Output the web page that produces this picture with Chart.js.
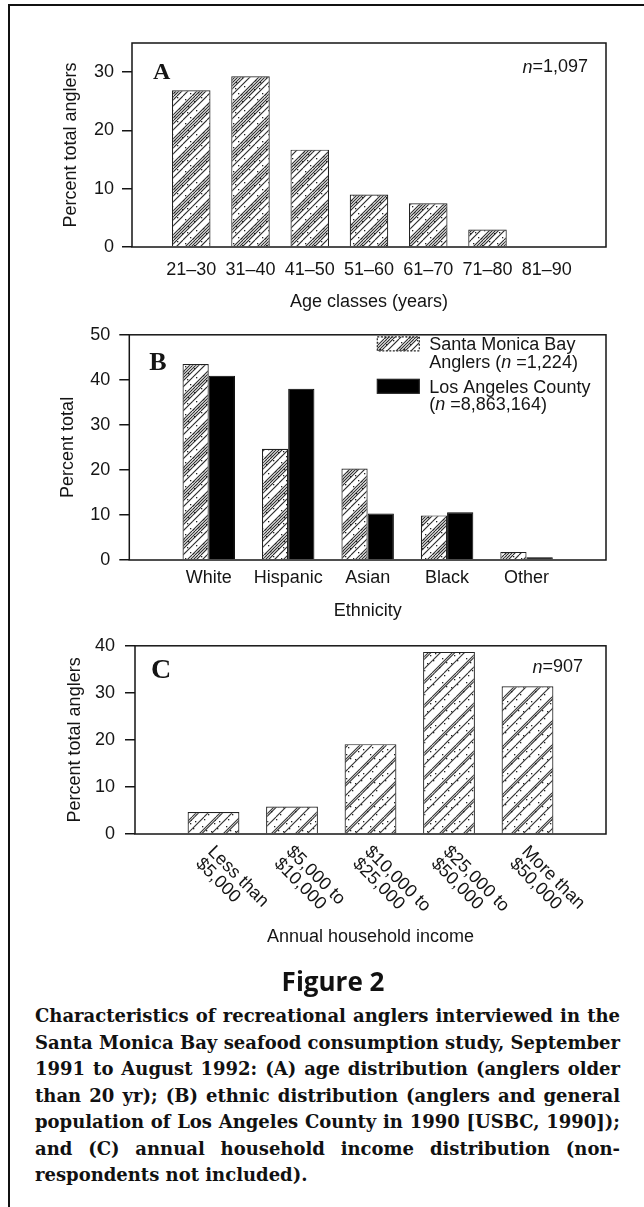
<!DOCTYPE html>
<html>
<head>
<meta charset="utf-8">
<script src="https://cdn.jsdelivr.net/npm/chart.js@4.4.0/dist/chart.umd.min.js"></script>
<style>
  body { margin: 0; background: #fff; }
  #page { position: relative; width: 644px; height: 1207px; overflow: hidden; }
  #frame { position: absolute; left: 8px; top: 4px; width: 700px; height: 1300px;
           border-left: 2px solid #111; border-top: 2px solid #111; }
  canvas { position: absolute; left: 0; }
  #fig { position: absolute; left: 0; width: 666px; top: 966px; text-align: center;
         font: bold 26px "Open Sans"; line-height: 30px; color: #111; }
  #caption { position: absolute; left: 35px; width: 585px; top: 1003px; color: #111;
             font: bold 18.5px "DejaVu Serif"; line-height: 26.5px; }
  #caption div { text-align: justify; text-align-last: justify; white-space: nowrap; }
  #caption div:last-child { text-align-last: left; }
  #caption span { display: inline; }
</style>
</head>
<body>
<div id="page">
  <div id="frame"></div>
  <canvas id="chartA" width="644" height="320" style="top:0px"></canvas>
  <canvas id="chartB" width="644" height="310" style="top:315px"></canvas>
  <canvas id="chartC" width="644" height="325" style="top:625px"></canvas>
  <div id="fig">Figure 2</div>
  <div id="caption">
    <div>Characteristics of recreational anglers interviewed in the</div>
    <div>Santa Monica Bay seafood consumption study, September</div>
    <div>1991 to August 1992: (A) age distribution (anglers older</div>
    <div>than 20 yr); (B) ethnic distribution (anglers and general</div>
    <div>population of Los Angeles County in 1990 [USBC, 1990]);</div>
    <div>and (C) annual household income distribution (non-</div>
    <div>respondents not included).</div>
  </div>
</div>
<script>
// panel A - age classes
const ageClasses = ["21–30", "31–40", "41–50", "51–60", "61–70", "71–80", "81–90"];
const agePct = [26.9, 29.3, 16.7, 9.0, 7.5, 3.0, 0.15];

// panel B - ethnicity
const ethnicGroups = ["White", "Hispanic", "Asian", "Black", "Other"];
const anglersPct = [43.5, 24.7, 20.3, 9.9, 1.8];
const countyPct = [40.9, 38.0, 10.3, 10.6, 0.6];

// panel C - household income
const incomeClasses = [
  ["Less than", "$5,000"],
  ["$5,000 to", "$10,000"],
  ["$10,000 to", "$25,000"],
  ["$25,000 to", "$50,000"],
  ["More than", "$50,000"],
];
const incomePct = [4.65, 5.85, 19.1, 38.7, 31.4];

Chart.defaults.font.family = '"Liberation Sans", Arial, sans-serif';
Chart.defaults.font.size = 18;
Chart.defaults.color = "#111";

const ink = "#151515";

// shrink caption font until every line fits its box
(function fitCaption() {
  const cap = document.getElementById("caption");
  const lines = [...cap.children];
  let size = 18.5;
  const tooWide = () => lines.some((d) => {
    d.style.display = "inline-block";
    d.style.textAlignLast = "left";
    const w = d.getBoundingClientRect().width;
    d.style.display = "";
    d.style.textAlignLast = "";
    return w > 585;
  });
  while (size > 14 && tooWide()) {
    size -= 0.25;
    cap.style.fontSize = size + "px";
  }
})();

// diagonal hatch + stipple, like the scanned bars
function makeHatch(offsets, color, dots) {
  const s = 24;
  const c = document.createElement("canvas");
  c.width = c.height = s;
  const g = c.getContext("2d");
  g.fillStyle = "#fff";
  g.fillRect(0, 0, s, s);
  g.strokeStyle = color;
  g.lineWidth = 1.1;
  for (let base = -s; base <= s; base += s) {
    offsets.forEach((o) => {
      g.beginPath();
      g.moveTo(base + o, s);
      g.lineTo(base + o + s, 0);
      g.stroke();
    });
  }
  g.fillStyle = "#222";
  dots.forEach(([x, y]) => g.fillRect(x, y, 1.3, 1.3));
  return g.createPattern(c, "repeat");
}

const dotsDense = [[2, 5], [9, 1], [14, 17], [20, 10], [6, 20], [17, 3], [11, 12], [22, 21], [4, 14], [15, 8], [1, 22], [19, 16]];
const dotsSparse = [[3, 4], [12, 2], [19, 14], [7, 18], [16, 21], [1, 11], [10, 9], [22, 6], [14, 13]];
const hatchA = makeHatch([0, 3, 6, 9, 15], "#2a2a2a", dotsDense);
const hatchC = makeHatch([0, 2.5, 12], "#333", dotsSparse);

// pad categories with an empty slot at each end
const padLabels = (arr) => ["", ...arr.map((a) => (Array.isArray(a) ? a.join(" ") : a)), ""];
const padData = (arr) => [null, ...arr, null];

const plotBox = {
  id: "plotBox",
  afterDatasetsDraw(chart) {
    const { ctx, chartArea: a } = chart;
    ctx.save();
    ctx.strokeStyle = ink;
    ctx.lineWidth = 1.5;
    ctx.strokeRect(a.left, a.top, a.right - a.left, a.bottom - a.top);
    ctx.restore();
  },
};

function drawN(ctx, text, right, y) {
  ctx.font = '18px "Liberation Sans"';
  ctx.textAlign = "right";
  ctx.fillText(text, right, y);
  const w = ctx.measureText(text).width;
  ctx.font = 'italic 18px "Liberation Sans"';
  ctx.fillText("n", right - w, y);
}

const panelText = {
  id: "panelText",
  afterDraw(chart, args, opts) {
    const { ctx, chartArea: a } = chart;
    ctx.save();
    ctx.fillStyle = ink;
    ctx.textBaseline = "middle";
    ctx.textAlign = "left";
    ctx.font = `bold ${opts.letterSize}px "Liberation Serif"`;
    ctx.fillText(opts.letter, a.left + opts.letterDx, a.top + opts.letterDy);
    if (opts.n) drawN(ctx, opts.n, a.right - opts.nDx, a.top + opts.nDy);
    ctx.restore();
  },
};

function yAxis(max, width, titleText, titlePad, tickPad) {
  return {
    min: 0,
    max: max,
    afterFit: (s) => { s.width = width; },
    afterBuildTicks: (s) => { s.ticks = s.ticks.filter((t) => t.value % 10 === 0); },
    ticks: { stepSize: 10, padding: tickPad, color: ink },
    grid: { drawOnChartArea: false, drawTicks: true, tickLength: 10, color: ink, lineWidth: 1.5 },
    border: { display: false },
    title: { display: true, text: titleText, color: ink, padding: { top: titlePad, bottom: 0 } },
  };
}

function xAxis(labels, height, titleText, tickPad, titlePad, showTicks) {
  return {
    type: "category",
    labels: labels,
    offset: false,
    afterFit: (s) => { s.height = height; },
    ticks: { display: showTicks, autoSkip: false, maxRotation: 0, padding: tickPad, color: ink },
    grid: { display: false },
    border: { display: false },
    title: { display: true, text: titleText, color: ink, padding: { top: 0, bottom: titlePad } },
  };
}

const common = {
  responsive: false,
  animation: false,
  devicePixelRatio: 1,
  events: [],
};

// ---- A
new Chart(document.getElementById("chartA"), {
  type: "bar",
  data: {
    labels: padLabels(ageClasses),
    datasets: [{
      data: padData(agePct),
      backgroundColor: hatchA,
      borderColor: "#222",
      borderWidth: 1.2,
      barPercentage: 0.65,
      categoryPercentage: 1,
    }],
  },
  options: {
    ...common,
    layout: { padding: { top: 43, right: 38, left: 0, bottom: 0 } },
    scales: {
      x: xAxis(padLabels(ageClasses), 73, "Age classes (years)", 4, 7.5, true),
      y: yAxis(35, 132, "Percent total anglers", 60.7, 8),
    },
    plugins: {
      legend: { display: false },
      tooltip: { enabled: false },
      panelText: { letter: "A", letterSize: 24, letterDx: 21, letterDy: 30, n: "=1,097", nDx: 18, nDy: 24.5 },
    },
  },
  plugins: [plotBox, panelText],
});

// ---- B legend, drawn from the dataset labels
const legendB = {
  id: "legendB",
  afterDraw(chart) {
    const { ctx, chartArea: a } = chart;
    const x0 = a.left + 248;
    const rows = [
      { y: a.top + 2, lines: ["Santa Monica Bay", "Anglers (|n| =1,224)"] },
      { y: a.top + 44.5, lines: ["Los Angeles County", "(|n| =8,863,164)"] },
    ];
    ctx.save();
    chart.data.datasets.forEach((ds, i) => {
      const r = rows[i];
      ctx.fillStyle = ds.backgroundColor;
      ctx.fillRect(x0, r.y, 42, 14);
      ctx.strokeStyle = "#222";
      ctx.lineWidth = 1.2;
      if (i === 0) ctx.setLineDash([2, 1.5]);
      ctx.strokeRect(x0, r.y, 42, 14);
      ctx.setLineDash([]);
      ctx.fillStyle = ink;
      ctx.textBaseline = "middle";
      ctx.textAlign = "left";
      r.lines.forEach((line, j) => {
        let x = x0 + 52;
        const y = r.y + 8.4 + j * 17.6;
        line.split("|").forEach((part, k) => {
          ctx.font = (k === 1 ? "italic " : "") + '18px "Liberation Sans"';
          ctx.fillText(part, x, y);
          x += ctx.measureText(part).width;
        });
      });
    });
    ctx.restore();
  },
};

new Chart(document.getElementById("chartB"), {
  type: "bar",
  data: {
    labels: padLabels(ethnicGroups),
    datasets: [
      {
        label: "Santa Monica Bay Anglers (n =1,224)",
        data: padData(anglersPct),
        backgroundColor: hatchA,
        borderColor: "#222",
        borderWidth: 1.2,
        barPercentage: 1,
        categoryPercentage: 0.66,
      },
      {
        label: "Los Angeles County (n =8,863,164)",
        data: padData(countyPct),
        backgroundColor: "#000",
        borderColor: "#000",
        borderWidth: 1,
        barPercentage: 1,
        categoryPercentage: 0.66,
      },
    ],
  },
  options: {
    ...common,
    layout: { padding: { top: 16.3, right: 38, left: 0, bottom: 0 } },
    scales: {
      x: xAxis(padLabels(ethnicGroups), 65, "Ethnicity", -1, 3.5, true),
      y: yAxis(50, 129.3, "Percent total", 57.2, 9),
    },
    plugins: {
      legend: { display: false },
      tooltip: { enabled: false },
      panelText: { letter: "B", letterSize: 26, letterDx: 20, letterDy: 28 },
    },
  },
  plugins: [plotBox, panelText, legendB],
});

// ---- C rotated two-line tick labels
const slantLabels = {
  id: "slantLabels",
  afterDraw(chart) {
    const { ctx, chartArea: a } = chart;
    const xs = chart.scales.x;
    ctx.save();
    ctx.fillStyle = ink;
    ctx.font = '18px "Liberation Sans"';
    ctx.textAlign = "left";
    ctx.textBaseline = "middle";
    incomeClasses.forEach((lines, i) => {
      const px = xs.getPixelForValue(i + 1);
      ctx.save();
      ctx.translate(px - 3, a.bottom + 15);
      ctx.rotate(Math.PI / 4);
      lines.forEach((t, j) => ctx.fillText(t, 0, j * 17));
      ctx.restore();
    });
    ctx.restore();
  },
};

new Chart(document.getElementById("chartC"), {
  type: "bar",
  data: {
    labels: padLabels(incomeClasses),
    datasets: [{
      data: padData(incomePct),
      backgroundColor: hatchC,
      borderColor: "#222",
      borderWidth: 1.2,
      barPercentage: 0.66,
      categoryPercentage: 1,
    }],
  },
  options: {
    ...common,
    layout: { padding: { top: 20, right: 38, left: 0, bottom: 0 } },
    scales: {
      x: xAxis(padLabels(incomeClasses), 116, "Annual household income", 6, 2.5, false),
      y: yAxis(40, 135, "Percent total anglers", 64.2, 10),
    },
    plugins: {
      legend: { display: false },
      tooltip: { enabled: false },
      panelText: { letter: "C", letterSize: 28, letterDx: 16, letterDy: 25, n: "=907", nDx: 23, nDy: 21.7 },
    },
  },
  plugins: [plotBox, panelText, slantLabels],
});
</script>
</body>
</html>
